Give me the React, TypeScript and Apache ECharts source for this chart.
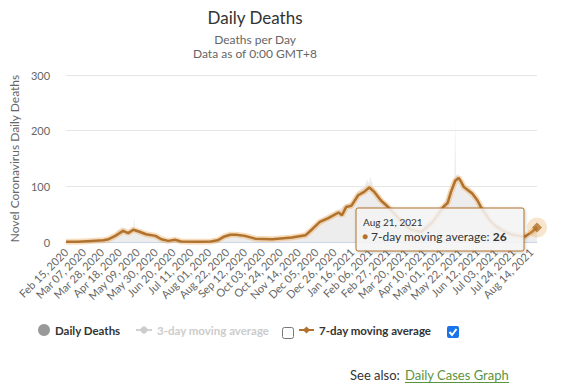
import React, { useEffect, useRef } from "react";
import * as echarts from "echarts";

const FONT = "Lato, 'Open Sans', sans-serif";
const START_DATE = "2020-02-15";
const DAY_COUNT = 554;

const xTickLabels = [
  "Feb 15, 2020", "Mar 07, 2020", "Mar 28, 2020", "Apr 18, 2020", "May 09, 2020",
  "May 30, 2020", "Jun 20, 2020", "Jul 11, 2020", "Aug 01, 2020", "Aug 22, 2020",
  "Sep 12, 2020", "Oct 03, 2020", "Oct 24, 2020", "Nov 14, 2020", "Dec 05, 2020",
  "Dec 26, 2020", "Jan 16, 2021", "Feb 06, 2021", "Feb 27, 2021", "Mar 20, 2021",
  "Apr 10, 2021", "May 01, 2021", "May 22, 2021", "Jun 12, 2021", "Jul 03, 2021",
  "Jul 24, 2021", "Aug 14, 2021",
];

// 7-day moving average, read at sample dates
const avgDates = [
  "2020-02-15", "2020-02-29", "2020-03-16", "2020-03-30", "2020-04-05", "2020-04-14",
  "2020-04-22", "2020-04-28", "2020-05-04", "2020-05-12", "2020-05-19", "2020-05-30",
  "2020-06-06", "2020-06-14", "2020-06-22", "2020-06-29", "2020-07-19", "2020-08-03",
  "2020-08-11", "2020-08-19", "2020-08-26", "2020-09-02", "2020-09-12", "2020-09-24",
  "2020-10-14", "2020-11-06", "2020-11-22", "2020-11-30", "2020-12-09", "2020-12-19",
  "2020-12-31", "2021-01-04", "2021-01-09", "2021-01-15", "2021-01-23", "2021-01-30",
  "2021-02-05", "2021-02-11", "2021-02-19", "2021-02-25", "2021-03-01", "2021-03-13",
  "2021-03-26", "2021-04-07", "2021-04-20", "2021-05-03", "2021-05-08", "2021-05-12",
  "2021-05-17", "2021-05-21", "2021-05-24", "2021-05-27", "2021-06-01", "2021-06-06",
  "2021-06-12", "2021-06-16", "2021-06-27", "2021-07-04", "2021-07-14", "2021-07-24",
  "2021-07-31", "2021-08-07", "2021-08-14", "2021-08-21",
];
const avgValues = [
  0.3, 0.6, 2, 3, 5, 12,
  20, 16, 22, 18, 14, 11,
  5, 2, 4, 1, 0.5, 1,
  3, 10, 13, 13, 11, 6,
  5, 8, 12, 23, 36, 43,
  53, 48, 63, 65, 84, 90,
  98, 90, 74, 66, 60, 40,
  22, 18, 35, 63, 70, 90,
  110, 115, 108, 99, 93, 87,
  75, 63, 38, 28, 18, 13,
  11, 10, 17, 26,
];

// Daily deaths (grey), read at sample dates including visible spikes
const dailyDates = [
  "2020-02-15", "2020-03-16", "2020-03-30", "2020-04-09", "2020-04-16", "2020-04-22",
  "2020-04-27", "2020-05-04", "2020-05-05", "2020-05-06", "2020-05-12", "2020-05-19",
  "2020-05-30", "2020-06-06", "2020-06-14", "2020-06-22", "2020-06-29", "2020-07-19",
  "2020-08-03", "2020-08-11", "2020-08-19", "2020-08-26", "2020-09-02", "2020-09-12",
  "2020-09-24", "2020-10-14", "2020-11-06", "2020-11-22", "2020-11-30", "2020-12-09",
  "2020-12-19", "2020-12-31", "2021-01-09", "2021-01-15", "2021-01-23", "2021-01-30",
  "2021-02-03", "2021-02-05", "2021-02-06", "2021-02-11", "2021-02-19", "2021-02-25",
  "2021-03-01", "2021-03-13", "2021-03-26", "2021-04-07", "2021-04-20", "2021-05-03",
  "2021-05-12", "2021-05-16", "2021-05-17", "2021-05-18", "2021-05-21", "2021-05-27",
  "2021-06-06", "2021-06-16", "2021-06-27", "2021-07-09", "2021-07-24", "2021-08-07",
  "2021-08-14", "2021-08-21",
];
const dailyValues = [
  0, 3, 4, 10, 22, 27,
  18, 26, 45, 24, 22, 15,
  12, 6, 3, 5, 2, 1,
  2, 5, 12, 16, 15, 12,
  8, 6, 10, 15, 26, 40,
  48, 58, 68, 72, 92, 100,
  112, 104, 118, 95, 80, 70,
  62, 44, 26, 20, 40, 68,
  98, 118, 225, 120, 122, 104,
  92, 68, 42, 28, 15, 12,
  20, 30,
];

const MONTHS = ["Jan", "Feb", "Mar", "Apr", "May", "Jun", "Jul", "Aug", "Sep", "Oct", "Nov", "Dec"];

function buildCategories(): string[] {
  const out: string[] = [];
  const [y, m, d] = START_DATE.split("-").map(Number);
  const t0 = Date.UTC(y, m - 1, d);
  for (let i = 0; i < DAY_COUNT; i++) {
    out.push(new Date(t0 + i * 86400000).toISOString().slice(0, 10));
  }
  return out;
}

function formatDate(iso: string): string {
  const [y, m, d] = iso.split("-").map(Number);
  return `${MONTHS[m - 1]} ${d}, ${y}`;
}

export default function App() {
  const ref = useRef<HTMLDivElement>(null);

  useEffect(() => {
    document.body.style.margin = "0";
    if (!ref.current) return;
    const chart = echarts.init(ref.current, undefined, { renderer: "svg" });
    const categories = buildCategories();
    const avgData = avgDates.map((d, i) => [d, avgValues[i]]);
    const dailyData = dailyDates.map((d, i) => [d, dailyValues[i]]);
    const lastDate = avgDates[avgDates.length - 1];
    const lastVal = avgValues[avgValues.length - 1];
    const brown = "#b0722c";
    const legendText = { fontWeight: "bold", fontSize: 11.5, color: "#333", fontFamily: FONT };

    const option: any = {
      animation: false,
      textStyle: { fontFamily: FONT },
      title: [
        {
          text: "Daily Deaths",
          left: 250,
          top: 4,
          textAlign: "center",
          textStyle: { fontSize: 17, fontWeight: "normal", color: "#333", fontFamily: FONT },
        },
        {
          text: "Deaths per Day\nData as of 0:00 GMT+8",
          left: 250,
          top: 27,
          textAlign: "center",
          textStyle: { fontSize: 12, fontWeight: "normal", color: "#666", lineHeight: 14, fontFamily: FONT },
        },
      ],
      grid: { left: 60, right: 25, top: 75, bottom: 147 },
      xAxis: {
        type: "category",
        data: categories,
        boundaryGap: false,
        axisLine: { lineStyle: { color: "#ccd6eb" } },
        axisTick: { show: false },
        axisLabel: {
          interval: 20,
          rotate: 45,
          fontSize: 11,
          color: "#666",
          fontFamily: FONT,
          formatter: (_v: string, i: number) => xTickLabels[i / 21] ?? "",
        },
      },
      yAxis: {
        type: "value",
        min: 0,
        max: 300,
        interval: 100,
        name: "Novel Coronavirus Daily Deaths",
        nameLocation: "middle",
        nameGap: 42,
        nameTextStyle: { fontSize: 12, color: "#666", fontFamily: FONT },
        axisLabel: { fontSize: 11, color: "#666", margin: 16, fontFamily: FONT },
        splitLine: { lineStyle: { color: "#e6e6e6" } },
        axisLine: { show: false },
        axisTick: { show: false },
      },
      legend: [
        {
          data: [{ name: "Daily Deaths", icon: "circle" }],
          left: 38,
          top: 324,
          padding: 0,
          itemWidth: 12,
          itemHeight: 12,
          selectedMode: false,
          textStyle: legendText,
        },
        {
          data: ["3-day moving average"],
          left: 135,
          top: 324,
          padding: 0,
          itemWidth: 16,
          itemHeight: 9,
          selected: { "3-day moving average": false },
          inactiveColor: "#ccc",
          textStyle: legendText,
        },
        {
          data: ["7-day moving average"],
          left: 298,
          top: 324,
          padding: 0,
          itemWidth: 15,
          itemHeight: 9,
          textStyle: legendText,
        },
      ],
      series: [
        {
          name: "Daily Deaths",
          type: "line",
          data: dailyData,
          symbol: "none",
          itemStyle: { color: "#999" },
          lineStyle: { width: 0 },
          areaStyle: { color: "#ededed", opacity: 1 },
          z: 1,
        },
        {
          name: "3-day moving average",
          type: "line",
          data: [],
          symbol: "circle",
          showSymbol: false,
          itemStyle: { color: "#aaa" },
        },
        {
          name: "glow",
          type: "line",
          data: avgData,
          symbol: "none",
          silent: true,
          lineStyle: { width: 6, color: "rgba(238,170,90,0.4)" },
          itemStyle: { color: "rgba(238,170,90,0.4)" },
          z: 2,
        },
        {
          name: "7-day moving average",
          type: "line",
          data: avgData,
          symbol: "diamond",
          symbolSize: 8,
          showSymbol: false,
          itemStyle: { color: brown },
          lineStyle: { width: 2.5, color: brown },
          z: 3,
        },
        {
          name: "halo",
          type: "scatter",
          data: [[lastDate, lastVal]],
          symbol: "circle",
          symbolSize: 20,
          silent: true,
          itemStyle: { color: "rgba(230,160,80,0.35)" },
          z: 4,
        },
        {
          name: "point",
          type: "scatter",
          data: [[lastDate, lastVal]],
          symbol: "diamond",
          symbolSize: 10,
          silent: true,
          itemStyle: { color: brown },
          z: 5,
        },
      ],
      graphic: [
        {
          type: "rect",
          z: 100,
          shape: { x: 356, y: 208, width: 168, height: 43, r: 2 },
          style: {
            fill: "rgba(247,247,247,0.85)",
            stroke: brown,
            lineWidth: 1,
            shadowBlur: 3,
            shadowColor: "rgba(0,0,0,0.2)",
            shadowOffsetX: 1,
            shadowOffsetY: 1,
          },
        },
        {
          type: "text",
          z: 101,
          x: 363,
          y: 222,
          style: {
            text: formatDate(lastDate),
            fontSize: 10,
            fill: "#333",
            fontFamily: FONT,
            verticalAlign: "middle",
          },
        },
        {
          type: "text",
          z: 101,
          x: 362,
          y: 236,
          style: {
            text: `{dot|●} 7-day moving average: {b|${lastVal}}`,
            fontSize: 12,
            fill: "#333",
            fontFamily: FONT,
            verticalAlign: "middle",
            rich: {
              dot: { fill: brown, fontSize: 10, fontFamily: FONT },
              b: { fontWeight: "bold", fontSize: 12, fill: "#333", fontFamily: FONT },
            },
          },
        },
        {
          type: "rect",
          z: 100,
          shape: { x: 282.5, y: 327.5, width: 11, height: 11, r: 2 },
          style: { fill: "#fff", stroke: "#767676", lineWidth: 1 },
        },
        {
          type: "rect",
          z: 100,
          shape: { x: 447, y: 326, width: 12, height: 12, r: 2 },
          style: { fill: "#1a73e8" },
        },
        {
          type: "polyline",
          z: 101,
          shape: { points: [[449.5, 332], [452, 335], [456.5, 329]] },
          style: { stroke: "#fff", lineWidth: 2, fill: null },
        },
        {
          type: "text",
          z: 100,
          x: 350,
          y: 375,
          style: { text: "See also:", fontSize: 13, fill: "#333", fontFamily: FONT, verticalAlign: "middle" },
        },
        {
          type: "text",
          z: 100,
          x: 405,
          y: 375,
          style: { text: "Daily Cases Graph", fontSize: 13, fill: "#5b9441", fontFamily: FONT, verticalAlign: "middle" },
        },
        {
          type: "line",
          z: 100,
          shape: { x1: 405, y1: 382.5, x2: 509, y2: 382.5 },
          style: { stroke: "#5b9441", lineWidth: 1 },
        },
      ],
    };

    chart.setOption(option);
    return () => chart.dispose();
  }, []);

  return <div ref={ref} style={{ width: 562, height: 389 }} />;
}
